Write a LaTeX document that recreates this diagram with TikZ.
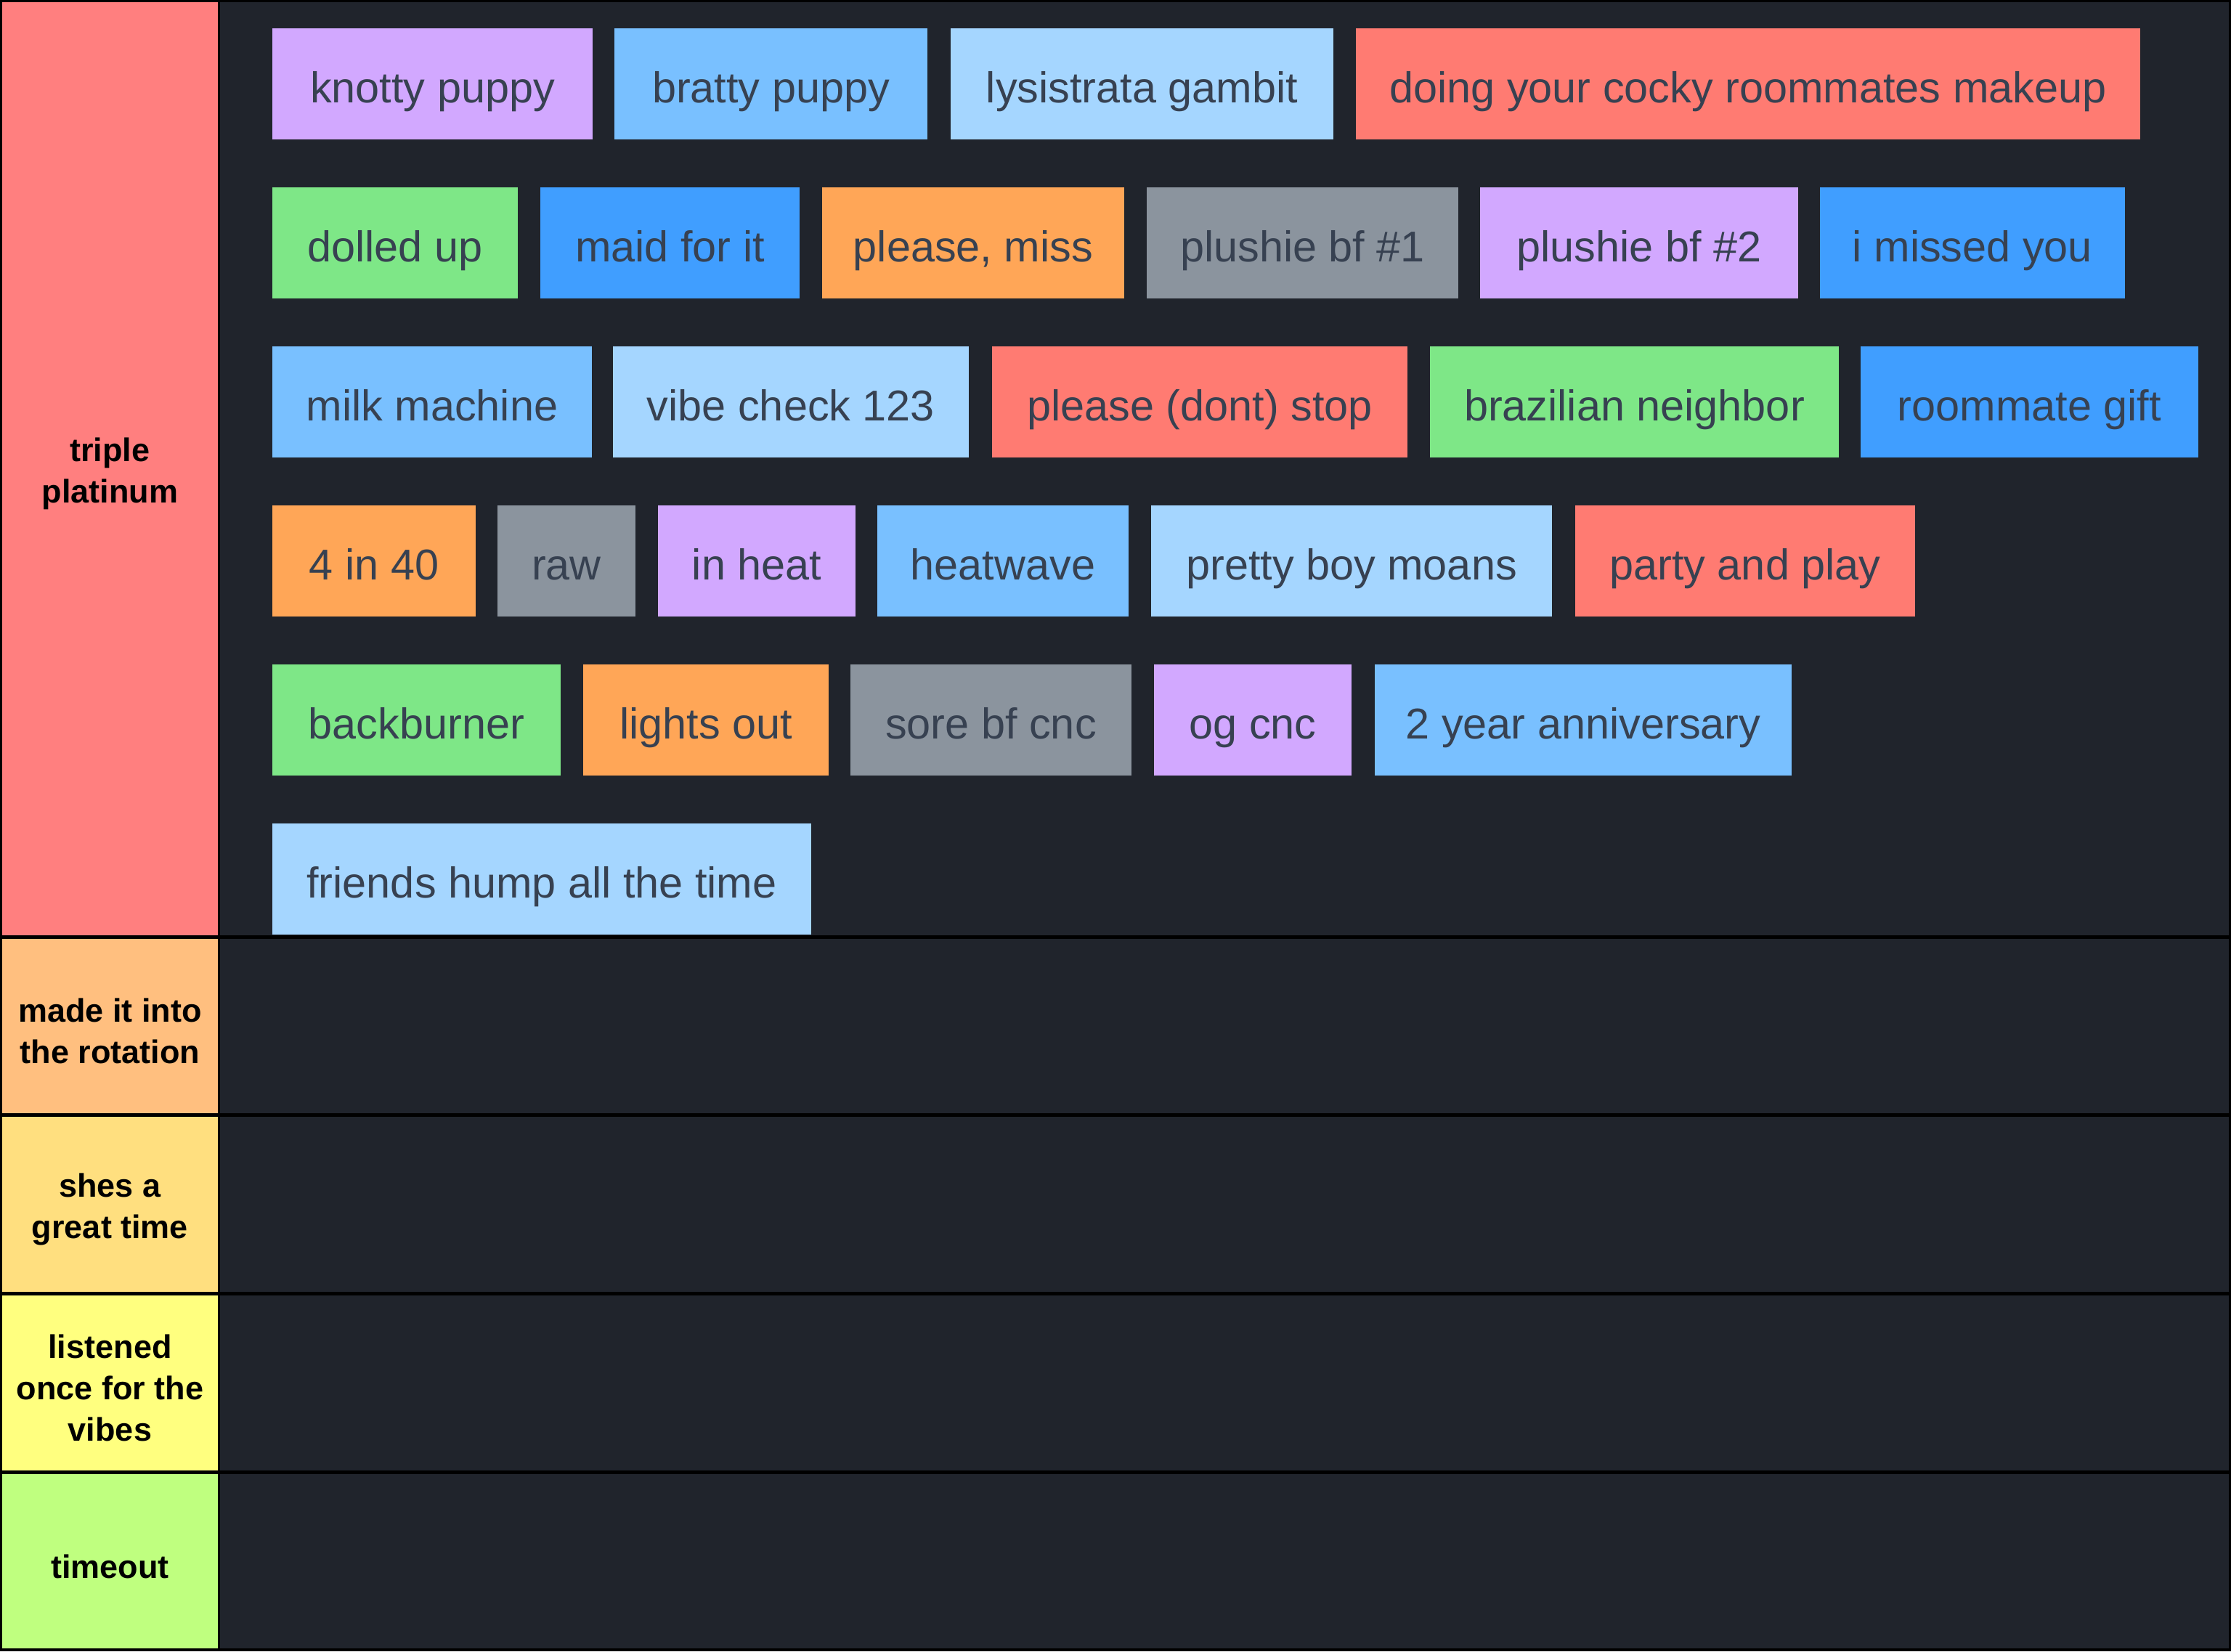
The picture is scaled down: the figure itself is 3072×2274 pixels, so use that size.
\documentclass[tikz,border=0pt]{standalone}
\usepackage{fontspec}
\setmainfont{Liberation Sans}
\definecolor{bgdark}{HTML}{20242C}
\definecolor{txt}{HTML}{374151}
\definecolor{tS}{HTML}{FF7F7F}
\definecolor{tA}{HTML}{FFBF7F}
\definecolor{tB}{HTML}{FFDF7F}
\definecolor{tC}{HTML}{FFFF7F}
\definecolor{tD}{HTML}{BFFF7F}
\definecolor{cP}{HTML}{D2A8FF}
\definecolor{cB}{HTML}{79C0FF}
\definecolor{cL}{HTML}{A5D6FF}
\definecolor{cR}{HTML}{FF7B72}
\definecolor{cG}{HTML}{7EE787}
\definecolor{cD}{HTML}{409EFF}
\definecolor{cO}{HTML}{FFA657}
\definecolor{cY}{HTML}{8B949E}
\tikzset{
  tile/.style={inner sep=0pt, outer sep=0pt, anchor=north west, text=txt,
    text height=25.5pt, text depth=12.75pt,
    font=\fontsize{14.85pt}{18pt}\selectfont},
  tierbox/.style={inner sep=0pt, outer sep=0pt, anchor=north west},
  tierlabel/.style={inner sep=0pt, outer sep=0pt, align=center, yshift=-1.75pt,
    text=black, font=\bfseries\fontsize{11.25pt}{14.25pt}\selectfont},
  rowbg/.style={inner sep=0pt, outer sep=0pt, anchor=north west, fill=bgdark}
}
% name, x1, x2, top, colour, text
\newcommand\tierTile[6]{%
  \node[tile, fill=#5, minimum width={(#3-#2)*0.25pt}] (#1) at (#2,#4) {#6};}
% name, top, bottom, colour, text
\newcommand\tierRow[5]{%
  \node[tierbox, fill=#4, minimum width={297*0.25pt}, minimum height={(#3-#2)*0.25pt}] (#1) at (3,#2) {};
  \node[tierlabel] (#1text) at (#1.center) {#5};
  \node[rowbg, minimum width={2766*0.25pt}, minimum height={(#3-#2)*0.25pt}] (#1bg) at (303,#2) {};}
\begin{document}
\begin{tikzpicture}[x=0.25pt, y=-0.25pt]
\fill[black] (0,0) rectangle (3072,2274);
\useasboundingbox (0,0) rectangle (3072,2274);
\tierRow{tierS}{3}{1288}{tS}{triple\\platinum}
\tierRow{tierA}{1293}{1533}{tA}{made it into\\the rotation}
\tierRow{tierB}{1538}{1779}{tB}{shes a\\great time}
\tierRow{tierC}{1784}{2025}{tC}{listened\\once for the\\vibes}
\tierRow{tierD}{2030}{2270}{tD}{timeout}
% row 1
\tierTile{knotty}{375}{816}{39}{cP}{knotty puppy}
\tierTile{bratty}{846}{1277}{39}{cB}{bratty puppy}
\tierTile{lysis}{1309}{1836}{39}{cL}{lysistrata gambit}
\tierTile{makeup}{1867}{2947}{39}{cR}{doing your cocky roommates makeup}
% row 2
\tierTile{dolled}{375}{713}{258}{cG}{dolled up}
\tierTile{maid}{744}{1101}{258}{cD}{maid for it}
\tierTile{miss}{1132}{1548}{258}{cO}{please, miss}
\tierTile{plushA}{1579}{2008}{258}{cY}{plushie bf \#1}
\tierTile{plushB}{2038}{2476}{258}{cP}{plushie bf \#2}
\tierTile{missed}{2506}{2926}{258}{cD}{i missed you}
% row 3
\tierTile{milk}{375}{815}{477}{cB}{milk machine}
\tierTile{vibe}{844}{1334}{477}{cL}{vibe check 123}
\tierTile{dontstop}{1366}{1938}{477}{cR}{please (dont) stop}
\tierTile{brazil}{1969}{2532}{477}{cG}{brazilian neighbor}
\tierTile{gift}{2562}{3027}{477}{cD}{roommate gift}
% row 4
\tierTile{fourin}{375}{655}{696}{cO}{4 in 40}
\tierTile{raw}{685}{875}{696}{cY}{raw}
\tierTile{inheat}{906}{1178}{696}{cP}{in heat}
\tierTile{heatwave}{1208}{1554}{696}{cB}{heatwave}
\tierTile{prettyboy}{1585}{2137}{696}{cL}{pretty boy moans}
\tierTile{party}{2169}{2637}{696}{cR}{party and play}
% row 5
\tierTile{backburner}{375}{772}{915}{cG}{backburner}
\tierTile{lights}{803}{1141}{915}{cO}{lights out}
\tierTile{sore}{1171}{1558}{915}{cY}{sore bf cnc}
\tierTile{ogcnc}{1589}{1861}{915}{cP}{og cnc}
\tierTile{anniv}{1893}{2467}{915}{cB}{2 year anniversary}
% row 6
\tierTile{friends}{375}{1117}{1134}{cL}{friends hump all the time}
\end{tikzpicture}
\end{document}
